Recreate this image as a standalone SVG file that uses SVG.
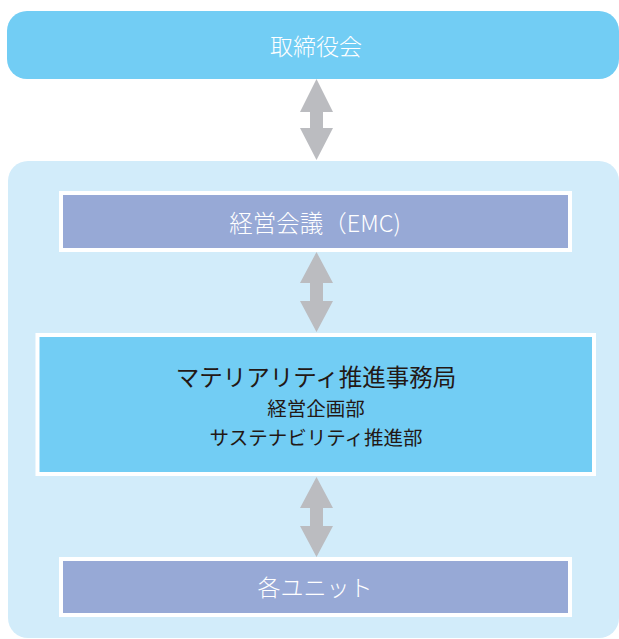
<svg xmlns="http://www.w3.org/2000/svg" width="619" height="639" viewBox="0 0 619 639">
<style>
.t{font-family:"Noto Sans CJK JP","Noto Sans",sans-serif;text-anchor:middle;dominant-baseline:central}
.w{fill:#ffffff;font-weight:300}
.d{fill:#231815}
.purple{fill:#97A9D6;stroke:#ffffff;stroke-width:4}
.arrow{fill:#BBBCC0}
</style>
<rect width="619" height="639" fill="#ffffff"/>
<g id="container">
<rect x="8" y="161" width="611" height="477" rx="20" ry="20" fill="#D2ECFA"/>
</g>
<g id="board">
<rect x="7" y="11" width="612" height="68" rx="20" ry="20" fill="#72CDF4"/>
<text class="t w" x="316" y="45" font-size="23">取締役会</text>
</g>
<g id="emc">
<rect class="purple" x="61" y="193" width="509" height="57"/>
<text class="t w" x="315" y="222" font-size="23.5">経営会議（EMC)</text>
</g>
<g id="secretariat">
<rect x="37.5" y="335" width="556.5" height="139" fill="#72CDF4" stroke="#ffffff" stroke-width="4"/>
<text class="t d" x="316" y="376" font-size="23.5">マテリアリティ推進事務局</text>
<text class="t d" x="316" y="407" font-size="19.5">経営企画部</text>
<text class="t d" x="316" y="436" font-size="19.5">サステナビリティ推進部</text>
</g>
<g id="units">
<rect class="purple" x="61" y="559" width="509" height="56"/>
<text class="t w" x="315" y="586" font-size="23">各ユニット</text>
</g>
<g id="connectors">
<polygon class="arrow" points="316.5,79 333,112 323,112 323,128 333,128 316.5,160 300,128 310,128 310,112 300,112"/>
<polygon class="arrow" points="316.5,252 333,283 323,283 323,301 333,301 316.5,332 300,301 310,301 310,283 300,283"/>
<polygon class="arrow" points="316.5,477 333,508 323,508 323,526 333,526 316.5,557 300,526 310,526 310,508 300,508"/>
</g>
</svg>
